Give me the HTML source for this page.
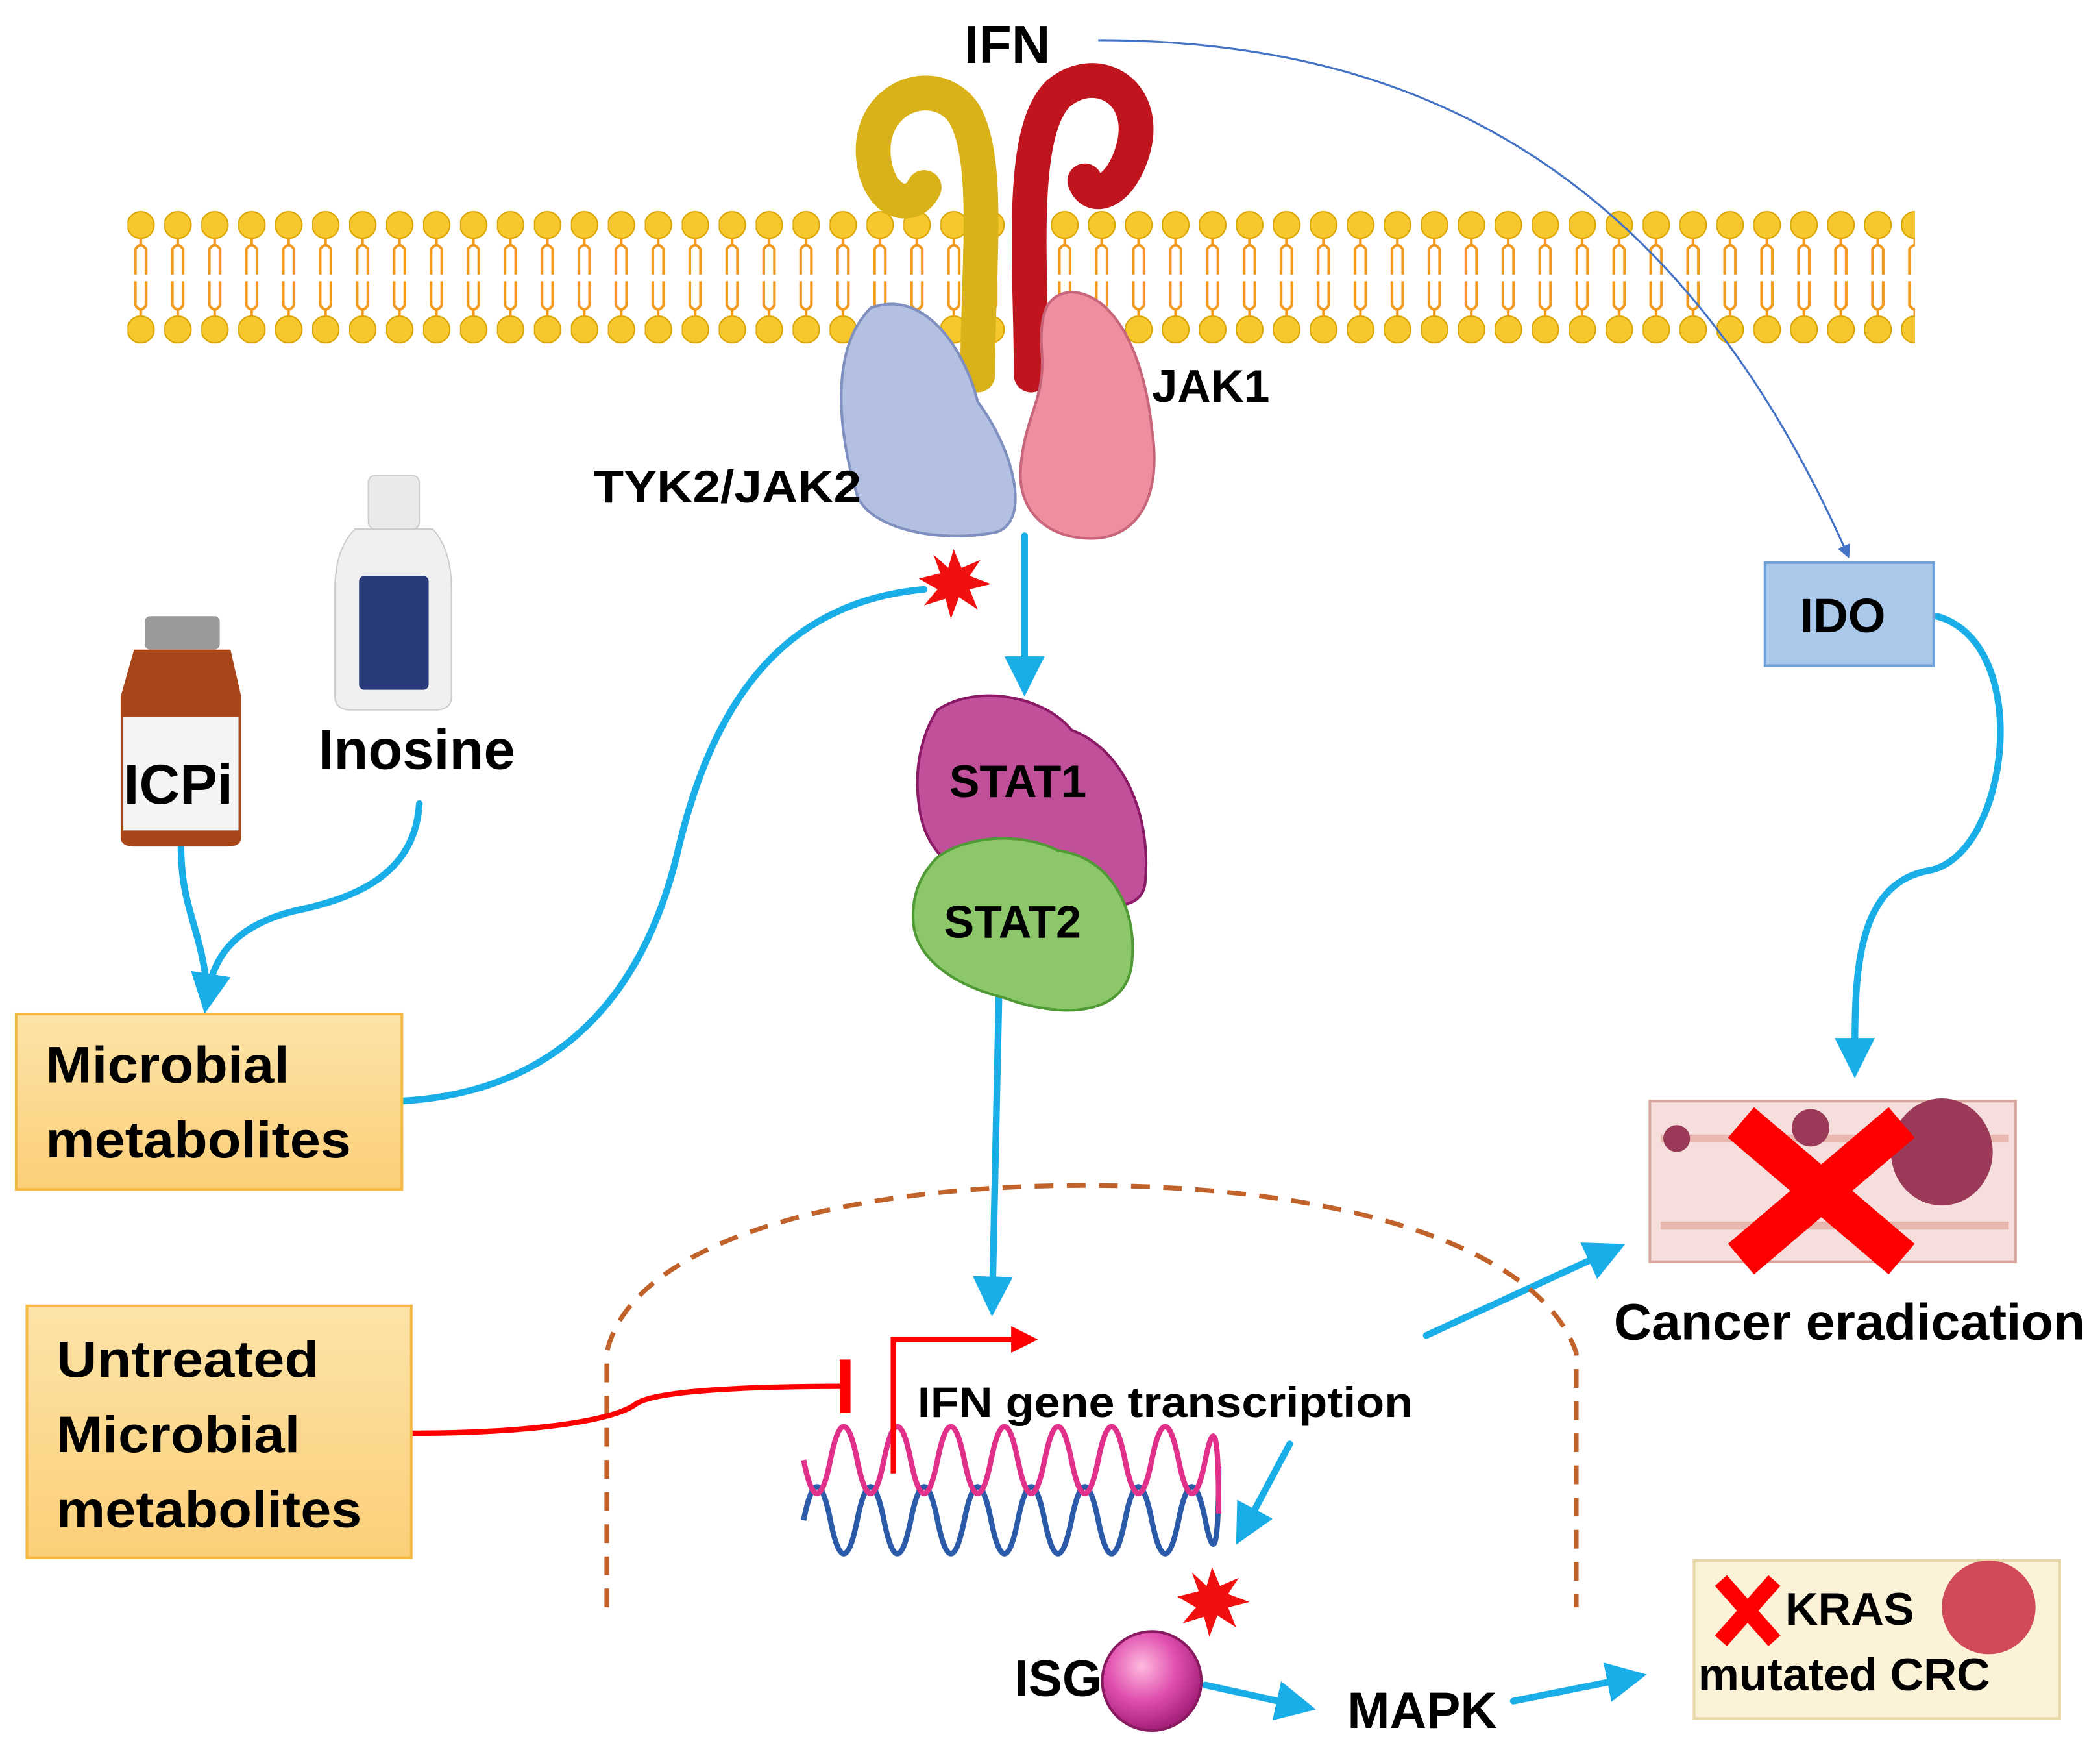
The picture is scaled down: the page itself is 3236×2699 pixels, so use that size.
<!DOCTYPE html>
<html><head><meta charset="utf-8"><style>html,body{margin:0;padding:0;background:#fff}svg{display:block}</style></head>
<body>
<svg width="3236" height="2699" viewBox="0 0 1568 1308" xmlns="http://www.w3.org/2000/svg" font-family="Liberation Sans, sans-serif" font-weight="bold">
<defs>
<marker id="ab" markerWidth="6" markerHeight="6" refX="3" refY="3" orient="auto" markerUnits="strokeWidth"><path d="M0,0 L6,3 L0,6 z" fill="#1aaee8"/></marker>
<marker id="at" markerWidth="10" markerHeight="10" refX="8" refY="5" orient="auto" markerUnits="userSpaceOnUse"><path d="M0,0 L10,5 L0,10 z" fill="#4472c4"/></marker>
<marker id="ar" markerWidth="5" markerHeight="5" refX="2.5" refY="2.5" orient="auto" markerUnits="strokeWidth"><path d="M0,0 L5,2.5 L0,5 z" fill="#f00"/></marker>
<linearGradient id="box" x1="0" y1="0" x2="0" y2="1"><stop offset="0" stop-color="#fde3a8"/><stop offset="1" stop-color="#fbcf78"/></linearGradient>
<radialGradient id="ball" cx="0.4" cy="0.35" r="0.7"><stop offset="0" stop-color="#fbd"/><stop offset="0.5" stop-color="#e04fb0"/><stop offset="1" stop-color="#9a1870"/></radialGradient>
<pattern id="mem" x="95" y="0" width="27.6" height="300" patternUnits="userSpaceOnUse">
<circle cx="10" cy="168" r="10" fill="#f7c72e" stroke="#d9a300" stroke-width="1"/>
<circle cx="10" cy="246" r="10" fill="#f7c72e" stroke="#d9a300" stroke-width="1"/>
<path d="M6,205 V186 Q10,180 14,186 V205 M6,210 V228 Q10,234 14,228 V210" stroke="#f09a20" stroke-width="2" fill="none"/>
<path d="M10,178 v6 M10,230 v6" stroke="#f09a20" stroke-width="2"/>
</pattern>
</defs>
<rect x="95" y="150" width="1335" height="112" fill="url(#mem)"/>
<path d="M730,280 C730,200 740,120 720,85 C700,55 650,70 652,115 C654,150 680,160 690,140" fill="none" stroke="#d9b21a" stroke-width="26" stroke-linecap="round"/>
<path d="M770,280 C770,200 760,100 790,70 C820,45 860,70 845,115 C835,145 815,150 810,135" fill="none" stroke="#c0141e" stroke-width="26" stroke-linecap="round"/>
<path d="M650,230 C690,215 720,260 730,300 C760,340 770,395 740,398 C700,405 650,395 640,370 C625,320 620,260 650,230 z" fill="#b4c0e2" stroke="#7f8fbf" stroke-width="2"/>
<path d="M800,218 C835,220 855,270 860,320 C868,370 850,402 815,402 C780,402 760,380 762,350 C765,310 780,300 778,265 C776,235 780,220 800,218 z" fill="#ee8fa0" stroke="#c9657a" stroke-width="2"/>
<text x="752" y="47" font-size="40" text-anchor="middle">IFN</text>
<text x="860" y="300" font-size="34" textLength="88" lengthAdjust="spacingAndGlyphs">JAK1</text>
<text x="443" y="375" font-size="34" textLength="200" lengthAdjust="spacingAndGlyphs">TYK2/JAK2</text>
<path d="M820,30 C1050,30 1250,120 1380,415" fill="none" stroke="#4472c4" stroke-width="1.5" marker-end="url(#at)"/>
<polygon points="712,410 718,424 732,418 724,430 740,436 724,440 730,455 716,446 710,462 706,447 690,452 700,440 686,432 702,428 697,414 708,424" fill="#f01010"/>
<polygon points="905,1170 911,1184 925,1178 917,1190 933,1196 917,1200 923,1215 909,1206 903,1222 899,1207 883,1212 893,1200 879,1192 895,1188 890,1174 901,1184" fill="#f01010"/>
<g stroke="#1aaee8" stroke-width="5" fill="none" stroke-linecap="round">
<path d="M765,400 V505" marker-end="url(#ab)"/>
<path d="M746,738 L741,968" marker-end="url(#ab)"/>
<path d="M1065,997 L1200,935" marker-end="url(#ab)"/>
<path d="M963,1078 L930,1140" marker-end="url(#ab)"/>
<path d="M900,1258 L968,1273" marker-end="url(#ab)"/>
<path d="M1130,1270 L1215,1253" marker-end="url(#ab)"/>
<path d="M1446,460 C1520,480 1500,640 1440,650 C1385,660 1385,730 1385,790" marker-end="url(#ab)"/>
<path d="M300,822 C420,815 480,740 505,640 C530,530 580,450 690,440"/>
<path d="M313,600 C310,650 270,670 220,680 C180,690 160,710 155,742" marker-end="url(#ab)"/>
<path d="M135,630 C135,680 150,690 155,742"/>
</g>
<path d="M700,530 C730,510 780,520 800,545 C840,560 860,610 855,660 C850,690 800,670 760,665 C720,660 690,640 686,600 C682,570 690,545 700,530 z" fill="#c0509a" stroke="#8a1a66" stroke-width="2"/>
<path d="M700,640 C720,625 760,620 790,635 C830,640 850,680 845,720 C840,760 790,760 750,745 C710,735 685,715 682,690 C680,665 690,650 700,640 z" fill="#8cc86a" stroke="#4f9a35" stroke-width="2"/>
<text x="760" y="595" font-size="34" text-anchor="middle">STAT1</text>
<text x="756" y="700" font-size="34" text-anchor="middle">STAT2</text>
<path d="M453,1200 V1010 C470,930 620,885 810,885 C1000,885 1150,930 1177,1010 V1200" fill="none" stroke="#c0622a" stroke-width="3.5" stroke-dasharray="14,10"/>
<g fill="none" stroke-width="4">
<path d="M600,1135 Q610,1085 620,1135 T640,1135 T660,1135 T680,1135 T700,1135 T720,1135 T740,1135 T760,1135 T780,1135 T800,1135 T820,1135 T840,1135 T860,1135 T880,1135 T900,1135 T910,1095" stroke="#2b5aa8"/>
<path d="M600,1090 Q610,1140 620,1090 T640,1090 T660,1090 T680,1090 T700,1090 T720,1090 T740,1090 T760,1090 T780,1090 T800,1090 T820,1090 T840,1090 T860,1090 T880,1090 T900,1090 T910,1130" stroke="#e0308a"/>
</g>
<path d="M667,1100 V1000 H765" fill="none" stroke="#f00" stroke-width="4" marker-end="url(#ar)"/>
<text x="685" y="1058" font-size="32" textLength="370" lengthAdjust="spacingAndGlyphs">IFN gene transcription</text>
<path d="M307,1070 C400,1070 460,1060 475,1048 C490,1038 560,1035 630,1035" fill="none" stroke="#f00" stroke-width="4"/>
<rect x="627" y="1015" width="8" height="40" fill="#f00"/>
<rect x="12" y="757" width="288" height="131" fill="url(#box)" stroke="#f4b942" stroke-width="2"/>
<text x="34" y="808" font-size="38" textLength="182" lengthAdjust="spacingAndGlyphs">Microbial</text>
<text x="34" y="864" font-size="38" textLength="228" lengthAdjust="spacingAndGlyphs">metabolites</text>
<rect x="20" y="975" width="287" height="188" fill="url(#box)" stroke="#f4b942" stroke-width="2"/>
<text x="42" y="1028" font-size="38" textLength="196" lengthAdjust="spacingAndGlyphs">Untreated</text>
<text x="42" y="1084" font-size="38" textLength="182" lengthAdjust="spacingAndGlyphs">Microbial</text>
<text x="42" y="1140" font-size="38" textLength="228" lengthAdjust="spacingAndGlyphs">metabolites</text>
<rect x="1318" y="420" width="126" height="77" fill="#a9c8ea" stroke="#6fa0d6" stroke-width="2"/>
<text x="1376" y="472" font-size="36" text-anchor="middle">IDO</text>
<rect x="108" y="460" width="56" height="25" rx="4" fill="#9a9a9a"/>
<path d="M100,485 H172 L180,520 V625 Q180,632 170,632 H100 Q90,632 90,625 V520 z" fill="#a8461a"/>
<rect x="92" y="535" width="86" height="85" fill="#f4f4f4"/>
<text x="133" y="600" font-size="42" text-anchor="middle">ICPi</text>
<rect x="275" y="355" width="38" height="40" rx="5" fill="#eaeaea" stroke="#ccc"/>
<path d="M265,395 H323 Q337,410 337,440 V520 Q337,530 325,530 H262 Q250,530 250,520 V440 Q250,410 265,395 z" fill="#f0f0f0" stroke="#ccc"/>
<rect x="268" y="430" width="52" height="85" rx="4" fill="#283a7a"/>
<text x="311" y="574" font-size="42" text-anchor="middle">Inosine</text>
<rect x="1232" y="822" width="273" height="120" fill="#f6dedd" stroke="#d8a8a0" stroke-width="2"/>
<path d="M1240,850 H1500 M1240,915 H1500" stroke="#e8b8b0" stroke-width="6"/>
<ellipse cx="1450" cy="860" rx="38" ry="40" fill="#9a3a58"/>
<circle cx="1352" cy="842" r="14" fill="#9a3a58"/>
<circle cx="1252" cy="850" r="10" fill="#9a3a58"/>
<path d="M1300,838 L1420,940 M1420,838 L1300,940" stroke="#f00" stroke-width="30"/>
<text x="1205" y="1000" font-size="38" textLength="352" lengthAdjust="spacingAndGlyphs">Cancer eradication</text>
<circle cx="860" cy="1255" r="37" fill="url(#ball)" stroke="#8a1a60" stroke-width="2"/>
<text x="790" y="1266" font-size="38" text-anchor="middle">ISG</text>
<text x="1062" y="1290" font-size="38" text-anchor="middle">MAPK</text>
<rect x="1265" y="1165" width="273" height="118" fill="#fcf2d8" stroke="#e8d8a8" stroke-width="2"/>
<ellipse cx="1485" cy="1200" rx="35" ry="35" fill="#d04a5a"/>
<path d="M1285,1180 L1325,1225 M1325,1180 L1285,1225" stroke="#f00" stroke-width="12"/>
<text x="1333" y="1213" font-size="34">KRAS</text>
<text x="1268" y="1262" font-size="34" textLength="218" lengthAdjust="spacingAndGlyphs">mutated CRC</text>
</svg>
</body></html>
